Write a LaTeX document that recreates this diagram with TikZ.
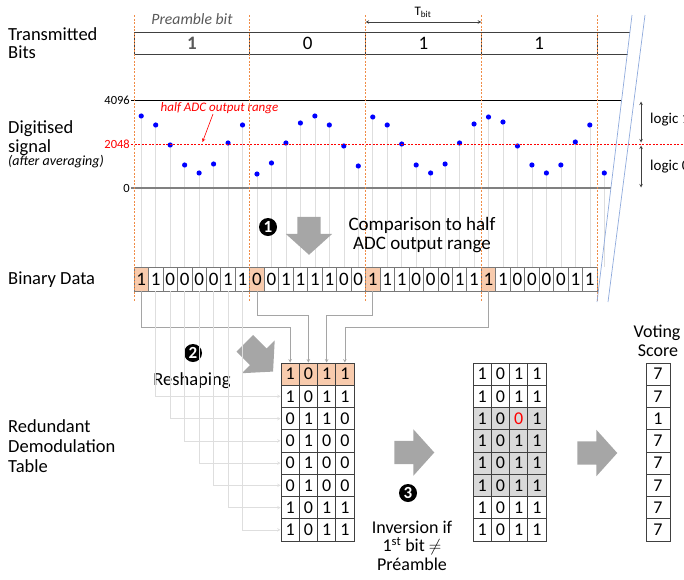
\documentclass[tikz,border=0pt]{standalone}
\usepackage{amssymb,amsmath}
\usepackage{fontspec}
\setmainfont{Carlito}
\usepackage{tikz}
\usetikzlibrary{positioning,shapes,arrows}
\definecolor{boxgray}{RGB}{64,64,64}
\definecolor{cellgray}{RGB}{120,120,120}
\definecolor{stemgray}{RGB}{222,222,222}
\definecolor{feedgray}{RGB}{165,165,165}
\definecolor{arrowgray}{RGB}{166,166,166}
\definecolor{shadegray}{RGB}{217,217,217}
\definecolor{textgray}{RGB}{89,89,89}
\definecolor{preorange}{RGB}{248,203,173}
\definecolor{edgeorange}{RGB}{240,140,70}
\definecolor{breakblue}{RGB}{143,170,220}
\newcommand{\fsz}[1]{\fontsize{#1}{#1}\selectfont}
\tikzset{
  %every node/.style={draw=red},
  hair/.style=      {line width=0.6pt},
  bigarrow/.style={single arrow, fill=arrowgray, draw=none, inner xsep=0pt,
    inner ysep=11.5pt, minimum height=40pt, single arrow head extend=11.5pt,
    single arrow tip angle=96},
  stepmark/.style={circle, fill=black, text=white, inner sep=0pt,
    minimum size=18pt, font=\fsz{17}\bfseries},
}

\begin{document}
\begin{tikzpicture}[x=1pt,y=-1pt]
                    \tikzstyle{lefttext}=[anchor=base west, inner sep=0pt, font=\fsz{18.5}]
                    \tikzstyle{steptext}=[anchor=base, inner sep=0pt, font=\fsz{18.5}]
                    \tikzstyle{axistext}=[anchor=east, inner sep=1pt, font=\fsz{12.5}]
                    \tikzstyle{txbit}=[rectangle, draw=boxgray, line width=0.9pt,
                        minimum width=115.75pt, minimum height=22pt, inner sep=0pt,
                        outer sep=0pt, font=\fsz{19}]
                    \tikzstyle{bincell}=[rectangle, draw=cellgray, line width=0.7pt,
                        minimum width=14.47pt, minimum height=24pt, inner sep=0pt,
                        font=\fsz{19}]
                    \tikzstyle{tabcell}=[rectangle, draw=boxgray, line width=0.8pt,
                        minimum width=18.25pt, minimum height=22.25pt, inner sep=0pt,
                        font=\fsz{18}]
                    \tikzstyle{sample}=[circle, fill=blue, inner sep=0pt, minimum size=5.2pt]
                    \tikzstyle{stemline}=[draw=stemgray, hair]
                    \tikzstyle{feedmain}=[draw=feedgray, hair, -stealth]
                    \tikzstyle{feedlight}=[draw=stemgray, line width=0.5pt, -stealth]
                    \tikzstyle{dimline}=[draw=boxgray, hair, stealth-stealth]
                    \tikzstyle{edgeline}=[draw=edgeorange, line width=0.6pt,
                        dash pattern=on 2pt off 1.5pt]

                    \useasboundingbox (0,0) rectangle (684,579);

                    % left labels
                    \node (TxLabelA) [lefttext] at (8,40.5) {Transmitted};
                    \node (TxLabelB) [lefttext] at (8,58) {Bits};
                    \node (SigLabelA) [lefttext] at (8,133) {Digitised};
                    \node (SigLabelB) [lefttext] at (8,152) {signal};
                    \node (SigNote) [lefttext, font=\fsz{14}\itshape] at (8,165.5)
                        {(after averaging)};
                    \node (BinLabel) [lefttext] at (8,284.3) {Binary Data};
                    \node (TabLabelA) [lefttext] at (8,432) {Redundant};
                    \node (TabLabelB) [lefttext] at (8,452) {Demodulation};
                    \node (TabLabelC) [lefttext] at (8,472) {Table};

                    % transmitted bits
                    \node (TxBit1) [txbit] at (191.9,43)
                        {\textcolor{textgray}{\bfseries 1}};
                    \node (TxBit2) [txbit, right=0pt of TxBit1] {0};
                    \node (TxBit3) [txbit, right=0pt of TxBit2] {1};
                    \node (TxBit4) [txbit, right=0pt of TxBit3] {1};
                    \coordinate (TxEndTop) at (630,32);
                    \coordinate (TxEndBot) at (628,54);
                    \draw[boxgray, line width=0.9pt] (TxBit4.north east) -- (TxEndTop);
                    \draw[boxgray, line width=0.9pt] (TxBit4.south east) -- (TxEndBot);

                    \node (PreNote) [anchor=base, inner sep=0pt, text=textgray,
                        font=\fsz{15.7}\itshape] at (192,24) {Preamble bit};
                    \coordinate (TbitL) at (TxBit3.north west |- 0,22);
                    \coordinate (TbitR) at (TxBit3.north east |- 0,22);
                    \draw[dimline] (TbitL) -- (TbitR);
                    \node (TbitText) [anchor=base, inner sep=0pt, font=\fsz{13}]
                        at (423,15) {T\textsubscript{bit}};

                    % digitised signal
                    \node (LvlTop) [axistext] at (131,100) {4096};
                    \node (LvlHalf) [axistext, text=red] at (131,144) {2048};
                    \node (LvlZero) [axistext] at (131,188) {0};
                    \coordinate (TopEnd) at (622,100);
                    \draw[black, line width=0.7pt] (LvlTop.east) -- (TopEnd);

                    \foreach \v/\s [count=\k from 0] in
                        {1/116,1/125,0/145,0/165,0/173,0/164,1/143,1/125,
                         0/174,0/163,1/143,1/123,1/116,1/125,0/146,0/166,
                         1/117,1/125,1/144,0/165,0/173,0/164,1/143,1/124,
                         1/117,1/122,0/146,0/165,0/173,0/165,1/142,1/125}
                    {
                        \pgfmathtruncatemacro\tint{(mod(\k,8)==0)*100}
                        \node (Bin\k) [bincell, fill=preorange!\tint!white]
                            at ({141.23+14.47*\k},279) {\v};
                        \node (Samp\k) [sample] at ({141.23+14.47*\k},\s) {};
                        \draw[stemline] (Samp\k.south) -- (Bin\k.north);
                    }
                    \node (Samp32) [sample] at (604.3,173) {};
                    \coordinate (BinEnd) at (604.3,267);
                    \draw[stemline] (Samp32.south) -- (BinEnd);

                    \coordinate (HalfEnd) at (684,144);
                    \draw[red, line width=0.7pt, dash pattern=on 2pt off 1.5pt]
                        (LvlHalf.east) -- (HalfEnd);
                    \coordinate (ZeroEnd) at (611,188);
                    \draw[gray, line width=1.4pt] (LvlZero.east) -- (ZeroEnd);

                    \node (HalfNote) [inner sep=0pt, text=red, font=\fsz{13}\itshape]
                        at (219.5,108) {half ADC output range};
                    \coordinate (HalfTail) at (213,114);
                    \coordinate (HalfTip) at (202.5,142);
                    \draw[red, hair, -stealth] (HalfTail) -- (HalfTip);

                    \coordinate (LogicTop) at (641,101.5);
                    \coordinate (LogicMidA) at (641,142.5);
                    \coordinate (LogicMidB) at (641,145.5);
                    \coordinate (LogicBot) at (641,187.5);
                    \draw[dimline] (LogicTop) -- (LogicMidA);
                    \draw[dimline] (LogicMidB) -- (LogicBot);
                    \node (LogicOne) [anchor=west, inner sep=0pt, font=\fsz{15}]
                        at (650,120) {logic 1};
                    \node (LogicZero) [anchor=west, inner sep=0pt, font=\fsz{15}]
                        at (650,167) {logic 0};

                    % bit boundaries and break
                    \foreach \b in {0,...,4}
                        \draw[edgeline] ({134+115.75*\b},15) -- ({134+115.75*\b},302);
                    \coordinate (BreakA1) at (632,15);
                    \coordinate (BreakA2) at (597,302);
                    \coordinate (BreakB1) at (645,15);
                    \coordinate (BreakB2) at (608,302);
                    \draw[breakblue, line width=0.7pt] (BreakA1) -- (BreakA2);
                    \draw[breakblue, line width=0.7pt] (BreakB1) -- (BreakB2);

                    % step 1
                    \node (StepOne) [stepmark] at (268,227) {1};
                    \node (CompArrow) [bigarrow, rotate=-90, minimum height=38pt]
                        at (309,230.5) {};
                    \node (CompLineA) [steptext, font=\fsz{19}] at (422,230)
                        {Comparison to half};
                    \node (CompLineB) [steptext, font=\fsz{19}] at (422,249.5)
                        {ADC output range};

                    % redundant demodulation table
                    \foreach \row [count=\r] in {{1,0,1,1},{1,0,1,1},{0,1,1,0},{0,1,0,0},
                        {0,1,0,0},{0,1,0,0},{1,0,1,1},{1,0,1,1}}
                    {
                        \pgfmathtruncatemacro\tint{(\r==1)*100}
                        \foreach \d [count=\c] in \row
                            \node (Dem\r\c) [tabcell, fill=preorange!\tint!white]
                                at ({281+18.25*(\c-0.5)},{363+22.25*(\r-0.5)}) {\d};
                    }

                    % step 2
                    \node (StepTwo) [stepmark] at (193,353) {2};
                    \node (Reshape) [steptext] at (192,385) {Reshaping};
                    \node (ShapeArrow) [bigarrow, rotate=-45] at (255.2,353.7) {};

                    \draw[feedmain] (Bin0.south) -- ++(0,36) -| (Dem11.north);
                    \draw[feedmain] (Bin8.south) -- ++(0,24) -| (Dem12.north);
                    \draw[feedmain] (Bin16.south) -- ++(0,24) -| (Dem13.north);
                    \draw[feedmain] (Bin24.south) -- ++(0,36) -| (Dem14.north);
                    \foreach \k [evaluate=\k as \r using int(\k+1)] in {1,...,7}
                        \draw[feedlight] (Bin\k.south) |- (Dem\r1.west);

                    % step 3
                    \node (InvArrow) [bigarrow] at (409,452.5) {};
                    \node (StepThree) [stepmark] at (408,493) {3};
                    \node (InvLineA) [steptext, font=\fsz{18}] at (412,533) {Inversion if};
                    \node (InvLineB) [steptext, font=\fsz{18}] at (412,551.5)
                        {1\textsuperscript{st} bit $\neq$};
                    \node (InvLineC) [steptext, font=\fsz{18}] at (412,570) {Préamble};

                    \foreach \row [count=\r] in {{1,0,1,1},{1,0,1,1},
                        {1,0,\textcolor{red}{0},1},{1,0,1,1},
                        {1,0,1,1},{1,0,1,1},{1,0,1,1},{1,0,1,1}}
                    {
                        \pgfmathtruncatemacro\tint{and(\r>2,\r<7)*100}
                        \foreach \d [count=\c] in \row
                            \node (Inv\r\c) [tabcell, fill=shadegray!\tint!white]
                                at ({473+18.25*(\c-0.5)},{363+22.25*(\r-0.5)}) {\d};
                    }

                    % voting
                    \node (VoteArrow) [bigarrow] at (592,453) {};
                    \node (VoteLineA) [steptext, font=\fsz{18}] at (657,337.5) {Voting};
                    \node (VoteLineB) [steptext, font=\fsz{18}] at (658,356.5) {Score};
                    \foreach \s [count=\r] in {7,7,1,7,7,7,7,7}
                        \node (Vote\r) [tabcell, minimum width=24pt]
                            at (658,{363+22.25*(\r-0.5)}) {\s};
                \end{tikzpicture}
\end{document}
